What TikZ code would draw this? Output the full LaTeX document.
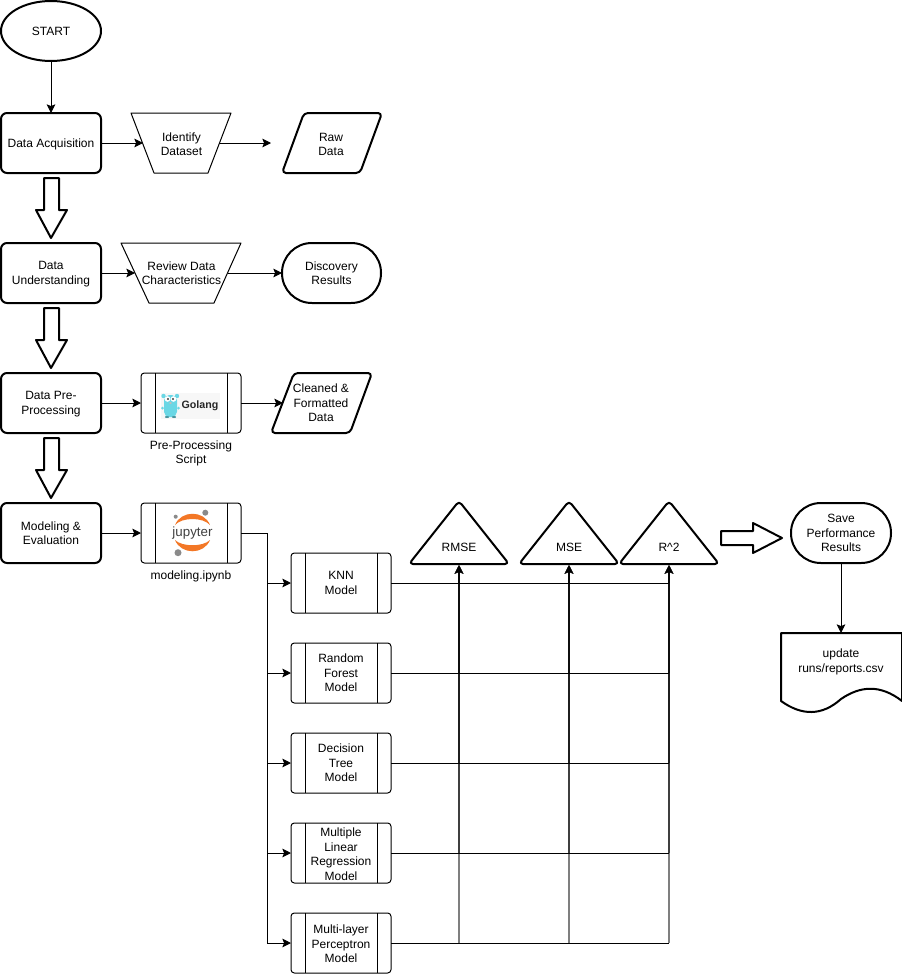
\documentclass[tikz,border=0pt]{standalone}
\usepackage{fontspec}
\setmainfont{Liberation Sans}
\usetikzlibrary{shapes.geometric,arrows.meta}
\definecolor{goph}{HTML}{6AD7E5}
\definecolor{jorange}{HTML}{F37726}
\definecolor{jgray}{HTML}{8A8A8A}
\newcommand\lowr{\rule{0pt}{8.2pt}}
\tikzset{
  x=0.75pt,y=-0.75pt,
  every node/.style={font=\fontsize{9}{10.9}\selectfont,align=center,inner sep=0pt,outer sep=0pt},
  heavy/.style={line width=1.5pt,line join=round},
  light/.style={line width=0.75pt,line join=round},
  boxsize/.style={minimum width=75pt,minimum height=45pt},
  startnode/.style={shape=ellipse,draw,heavy,boxsize},
  mainbox/.style={draw,heavy,boxsize,rounded corners=4.5pt},
  procbox/.style={draw,light,boxsize,rounded corners=2.5pt},
  stadium/.style={draw,heavy,boxsize,rounded corners=22.4pt},
  textonly/.style={},
  conn/.style={line width=0.75pt,-{Stealth[length=6.5pt,width=6.5pt,inset=1.3pt]}},
  busline/.style={line width=0.75pt},
  riser/.style={line width=1.5pt,draw opacity=0.5,fill opacity=0.5,-{Stealth[length=6.5pt,width=6.5pt,inset=1.3pt]}},
  blockarrow/.style={draw,heavy,fill=white},
  trap/.style={draw,light,fill=white},
  para/.style={draw,heavy,rounded corners=3pt},
  tri/.style={draw,heavy,rounded corners=3pt},
  doc/.style={draw,heavy},
}
\begin{document}
\begin{tikzpicture}
\useasboundingbox[fill=white] (0,0) rectangle (902,974);

% trapezia, parallelograms, triangles and the document outline
\draw[trap] (131,113) -- (231,113) -- (208,173) -- (154,173) -- cycle;
\draw[trap] (121,243) -- (241,243) -- (214,303) -- (149,303) -- cycle;
\draw[para] (304,113) -- (382,113) -- (360,173) -- (282,173) -- cycle;
\draw[para] (294,373) -- (372,373) -- (350,433) -- (271,433) -- cycle;
\draw[tri] (459,501) -- (509,564) -- (409,564) -- cycle;
\draw[tri] (569,501) -- (619,564) -- (519,564) -- cycle;
\draw[tri] (669,501) -- (719,564) -- (619,564) -- cycle;
\draw[doc] (781,633) -- (902,633) -- (902,701)
  .. controls (880,684) and (860,686) .. (841,699)
  .. controls (822,716) and (802,716) .. (781,701) -- cycle;

% block arrows
\draw[blockarrow] (44,178) -- (59,178) -- (59,210) -- (67,210) -- (51,238) -- (36,210) -- (44,210) -- cycle;
\draw[blockarrow] (44,308) -- (59,308) -- (59,340) -- (67,340) -- (51,368) -- (36,340) -- (44,340) -- cycle;
\draw[blockarrow] (44,438) -- (59,438) -- (59,470) -- (67,470) -- (51,498) -- (36,470) -- (44,470) -- cycle;
\draw[blockarrow] (721,531) -- (753,531) -- (753,523) -- (782,538) -- (753,553) -- (753,545) -- (721,545) -- cycle;

% left column
\node[startnode] (start) at (51,31) {START};
\node[mainbox] (acq) at (51,143) {\lowr Data Acquisition};
\node[mainbox] (und) at (51,273) {\lowr Data\\Understanding};
\node[mainbox] (pre) at (51,403) {\lowr Data Pre-\\Processing};
\node[mainbox] (mod) at (51,533) {Modeling \&\\Evaluation};

% second and third columns
\node[textonly,minimum width=57.75pt,minimum height=45pt] (ident) at (181.5,143) {\lowr Identify\\Dataset};
\node[textonly,minimum width=69.75pt,minimum height=45pt] (review) at (181.5,273) {Review Data\\Characteristics};
\node[textonly,minimum width=55.5pt,minimum height=45pt] (raw) at (331,143) {\lowr Raw\\Data};
\coordinate (rawend) at (271,143);
\node[stadium,minimum width=74.25pt] (disc) at (331.5,273) {Discovery\\Results};
\node[procbox] (golang) at (191,403) {};
\node[textonly,minimum width=57pt,minimum height=45pt] (clean) at (321,403) {Cleaned \&\\Formatted\\Data};
\node[procbox] (jup) at (191,533) {};
\node[textonly] (prelabel) at (191,453.5) {Pre-Processing\\Script};
\node[textonly] (modlabel) at (191,576) {modeling.ipynb};

% Golang picture
\fill[black!3] (161,393) rectangle (220,419);
\fill[goph] (163.5,396) circle[radius=2.2] (177,396) circle[radius=2.2];
\fill[goph,rounded corners=4pt] (164,395) rectangle (177,417);
\fill[goph] (162.5,408) circle[radius=1.5] (178.5,408) circle[radius=1.5];
\fill[goph!70!black] (167,417) ellipse[x radius=2.2,y radius=1] (174,417) ellipse[x radius=2.2,y radius=1];
\fill[white] (167.5,399) circle[radius=2.8] (173.5,399) circle[radius=2.8];
\fill[black!75] (168,399) circle[radius=1.1] (173,399) circle[radius=1.1];
\fill[black!25] (170.5,403) ellipse[x radius=1.6,y radius=1];
\node[textonly,font=\fontsize{8}{9}\selectfont\bfseries,text=black!85] (golangtext) at (200,406) {Golang};

% Jupyter picture
\fill[jorange] (175,525) .. controls (181,510) and (204,510) .. (210,525)
   .. controls (203,517) and (182,517) .. cycle;
\fill[jorange] (175,540) .. controls (181,555) and (204,555) .. (210,540)
   .. controls (203,547) and (182,547) .. cycle;
\fill[jgray] (205.3,512.7) circle[radius=3] (175.7,516.7) circle[radius=2] (178,552.7) circle[radius=3.5];
\node[textonly,font=\fontsize{10}{12}\selectfont,text=black!75] (juptext) at (192.5,533) {jupyter};

% model boxes
\node[procbox] (knn) at (341,583) {KNN\\Model};
\node[procbox] (rf) at (341,673) {Random\\Forest\\Model};
\node[procbox] (dt) at (341,763) {Decision\\Tree\\Model};
\node[procbox] (mlr) at (341,853) {\lowr Multiple\\Linear\\Regression\\Model};
\node[procbox] (mlp) at (341,943) {\lowr Multi-layer\\Perceptron\\Model};
\foreach \b in {golang,jup,knn,rf,dt,mlr,mlp}{
  \draw[light] ([xshift=10.5pt]\b.north west) -- ([xshift=10.5pt]\b.south west);
  \draw[light] ([xshift=-10.5pt]\b.north east) -- ([xshift=-10.5pt]\b.south east);
}

% metrics and results
\node[textonly,minimum width=45pt,minimum height=27pt] (rmse) at (459,547) {RMSE};
\node[textonly,minimum width=45pt,minimum height=27pt] (mse) at (569,547) {MSE};
\node[textonly,minimum width=45pt,minimum height=27pt] (r2) at (669,547) {R\^{}2};
\node[stadium] (save) at (841,533) {Save\\Performance\\Results};
\node[textonly,minimum width=90pt,minimum height=42pt] (report) at (841,661) {\lowr update\\runs/reports.csv};

% connectors
\draw[conn] (start) -- (acq);
\draw[conn] (acq) -- (ident);
\draw[conn] (ident) -- (rawend);
\draw[conn] (und) -- (review);
\draw[conn] (review) -- (disc);
\draw[conn] (pre) -- (golang);
\draw[conn] (golang) -- (clean);
\draw[conn] (mod) -- (jup);
\draw[conn] (save) -- (report);
\coordinate (bus) at (267,533);
\draw[busline] (jup.east) -- (bus);
\foreach \m in {knn,rf,dt,mlr,mlp}{
  \draw[conn] (bus) |- (\m.west);
}
\foreach \m in {mlp,mlr,dt,rf,knn}{
  \foreach \c in {rmse,mse,r2}{
    \draw[riser] (\m.east -| \c.south) -- (\c.south);
  }
  \draw[busline] (\m.east) -- (\m.east -| r2.south);
}
\end{tikzpicture}
\end{document}
